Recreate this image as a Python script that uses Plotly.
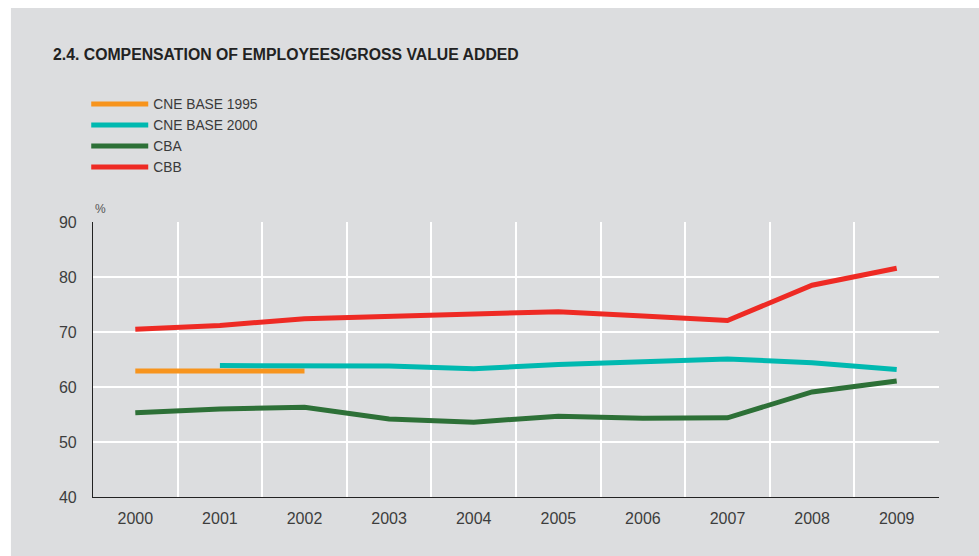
import plotly.graph_objects as go

years = ["2000", "2001", "2002", "2003", "2004", "2005", "2006", "2007", "2008", "2009"]
cne1995 = [62.9, 62.9, 62.9, None, None, None, None, None, None, None]
cne2000 = [None, 63.9, 63.9, 63.8, 63.3, 64.1, 64.6, 65.1, 64.4, 63.2]
cba = [55.3, 56.0, 56.3, 54.2, 53.6, 54.7, 54.3, 54.4, 59.1, 61.1]
cbb = [70.5, 71.2, 72.4, 72.9, 73.3, 73.7, 72.9, 72.1, 78.5, 81.6]

series_names = ["CNE BASE 1995", "CNE BASE 2000", "CBA", "CBB"]
series_vals = [cne1995, cne2000, cba, cbb]
colors = ["#f7941d", "#00b9b0", "#2d7037", "#ee2a24"]

fig = go.Figure()
for name, vals, col in zip(series_names, series_vals, colors):
    fig.add_trace(go.Scatter(x=years, y=vals, name=name, mode="lines",
                             line=dict(color=col, width=5), connectgaps=False))

bg = "#dcdddf"
fig.update_layout(
    width=979, height=556,
    margin=dict(l=93, r=40, t=222, b=59, autoexpand=False),
    paper_bgcolor="white",
    plot_bgcolor=bg,
    font=dict(family="Liberation Sans, Arial, sans-serif", color="#3a3a3a"),
    showlegend=True,
    legend=dict(x=-0.008, xanchor="left", y=1.485, yanchor="top",
                bgcolor="rgba(0,0,0,0)", font=dict(size=13.8, color="#3a3a3a"),
                itemwidth=57, tracegroupgap=0),
    xaxis=dict(type="category", tickson="boundaries", range=[-0.5, 9.5],
               showgrid=True, gridcolor="white", gridwidth=1.5, ticks="",
               showline=True, linecolor="#222", linewidth=1.2,
               tickfont=dict(size=16, color="#3d3d3d"), ticklabelstandoff=7,
               zeroline=False, automargin=False),
    yaxis=dict(range=[40, 90], dtick=10, showgrid=True, gridcolor="white",
               gridwidth=1.5, ticks="", showline=True, linecolor="#222",
               linewidth=1.2, tickfont=dict(size=16, color="#3d3d3d"),
               ticklabelstandoff=12, zeroline=False, automargin=False),
    shapes=[dict(type="rect", xref="paper", yref="paper", x0=-0.097, x1=1.1,
                 y0=-0.4, y1=1.778, fillcolor=bg, line=dict(width=0), layer="below")],
    annotations=[
        dict(text="<b>2.4. COMPENSATION OF EMPLOYEES/GROSS VALUE ADDED</b>",
             xref="paper", yref="paper", x=(51 - 93) / 846, y=(497 - 54) / 275,
             xanchor="left", yanchor="middle", showarrow=False,
             font=dict(size=15.8, color="#222")),
        dict(text="%", xref="paper", yref="paper", x=(93 - 93) / 846,
             y=(497 - 209) / 275, xanchor="left", yanchor="middle",
             showarrow=False, font=dict(size=12, color="#555")),
    ],
)

fig.write_html("out.html", config={"displayModeBar": False},
               post_script="document.body.style.margin='0';document.body.style.overflow='hidden';")
